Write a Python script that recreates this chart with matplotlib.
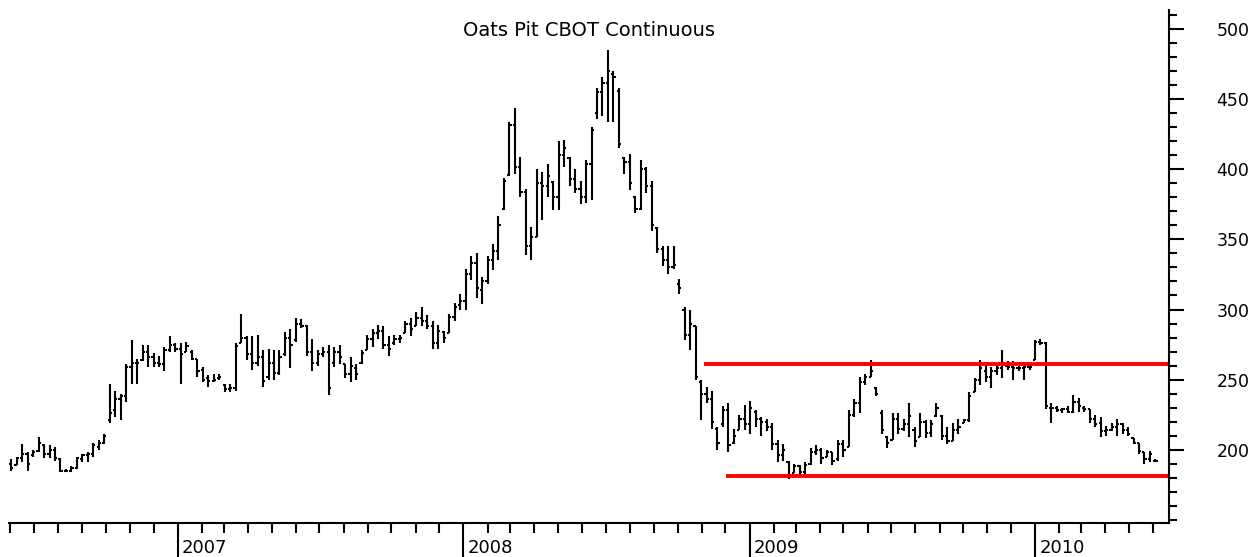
import numpy as np
import pandas as pd
import matplotlib
matplotlib.use('Agg')
import matplotlib.pyplot as plt
import matplotlib.dates as mdates
from matplotlib.collections import LineCollection
from matplotlib.ticker import MultipleLocator
from matplotlib.transforms import ScaledTranslation

# weekly bars, Friday dates
weeks = pd.date_range('2006-06-02', periods=210, freq='7D')

# 2006 (jun-dec)
high_2006 = [193, 195, 204, 198, 200, 209, 204, 203, 202, 194, 186, 188, 195, 197, 198, 205, 207, 211, 247, 242,
             240, 261, 278, 265, 275, 275, 269, 267, 273, 281, 276]
low_2006 = [185, 189, 191, 185, 195, 198, 194, 194, 192, 184, 184, 184, 186, 191, 191, 195, 200, 204, 219, 223,
            221, 234, 247, 247, 263, 259, 259, 259, 256, 270, 270]
open_2006 = [190, 189, 194, 197, 196, 199, 203, 197, 200, 193, 185, 185, 187, 193, 196, 197, 202, 205, 221, 228,
             236, 238, 259, 262, 264, 270, 266, 262, 261, 271, 275]
close_2006 = [187, 194, 197, 190, 198, 205, 197, 200, 194, 185, 185, 187, 194, 196, 197, 203, 205, 210, 226, 236,
              238, 259, 262, 262, 270, 266, 262, 261, 271, 275, 272]

# 2007
high_2007 = [276, 277, 271, 265, 259, 253, 254, 254, 247, 247, 276, 297, 281, 281, 282, 271, 272, 271, 271, 284,
             286, 294, 293, 289, 279, 271, 273, 275, 273, 275, 261, 266, 261, 271, 282, 286, 289, 288, 281, 282,
             282, 292, 294, 298, 302, 296, 292, 289, 285, 297, 305, 311]
low_2007 = [247, 270, 264, 252, 248, 245, 248, 250, 241, 241, 242, 276, 264, 257, 260, 245, 250, 250, 253, 267,
            258, 277, 287, 267, 256, 260, 266, 239, 259, 261, 251, 248, 250, 261, 271, 273, 279, 272, 267, 275,
            276, 283, 281, 288, 288, 286, 272, 272, 276, 283, 292, 300]
open_2007 = [272, 270, 270, 265, 257, 251, 249, 251, 246, 243, 244, 276, 280, 268, 262, 266, 252, 262, 255, 268,
             280, 278, 290, 288, 270, 262, 268, 270, 262, 270, 261, 254, 258, 262, 271, 279, 283, 285, 275, 276,
             279, 283, 290, 288, 294, 292, 288, 276, 284, 283, 295, 303]
close_2007 = [268, 274, 265, 256, 250, 249, 250, 252, 243, 244, 274, 280, 268, 262, 266, 249, 262, 255, 266, 280,
              275, 290, 288, 270, 262, 268, 270, 244, 270, 266, 254, 260, 254, 269, 279, 283, 285, 275, 272, 279,
              280, 290, 286, 294, 292, 288, 276, 285, 280, 295, 302, 306]

# 2008
high_2008 = [329, 338, 340, 323, 338, 347, 367, 394, 434, 444, 409, 386, 359, 400, 398, 404, 392, 420, 421, 409,
             400, 392, 407, 430, 458, 466, 485, 470, 458, 409, 411, 381, 407, 402, 392, 359, 345, 345, 345, 322,
             302, 300, 288, 250, 245, 242, 216, 231, 233, 215, 225, 232]
low_2008 = [300, 321, 308, 304, 318, 328, 335, 371, 395, 397, 380, 339, 335, 352, 364, 380, 371, 371, 402, 388,
            383, 375, 376, 378, 436, 438, 434, 434, 415, 397, 385, 369, 371, 383, 356, 340, 331, 325, 329, 311,
            278, 271, 250, 221, 233, 215, 200, 216, 198, 204, 214, 214]
open_2008 = [306, 325, 333, 314, 320, 335, 342, 372, 396, 432, 402, 384, 345, 352, 390, 388, 391, 380, 410, 408,
             393, 386, 380, 404, 440, 455, 462, 468, 456, 408, 405, 380, 372, 400, 388, 358, 343, 335, 330, 318,
             300, 282, 288, 248, 240, 236, 215, 218, 228, 205, 214, 222]
close_2008 = [325, 333, 315, 320, 335, 342, 360, 392, 432, 402, 384, 345, 352, 390, 388, 395, 380, 410, 415, 393,
              386, 380, 404, 428, 455, 462, 470, 466, 418, 405, 390, 372, 400, 388, 360, 343, 335, 330, 332, 315,
              282, 290, 252, 240, 236, 220, 205, 228, 203, 210, 222, 218]

# 2009
high_2009 = [235, 228, 223, 222, 219, 207, 204, 192, 190, 189, 191, 201, 203, 201, 200, 198, 207, 207, 228, 236,
             252, 254, 264, 245, 228, 210, 226, 226, 222, 233, 216, 226, 221, 221, 233, 225, 216, 219, 222, 222,
             241, 251, 264, 261, 259, 260, 271, 263, 263, 260, 260, 260]
low_2009 = [211, 216, 210, 213, 200, 191, 192, 179, 183, 182, 182, 189, 196, 190, 195, 189, 192, 195, 202, 223,
            226, 246, 252, 238, 211, 201, 207, 211, 213, 209, 202, 209, 208, 209, 223, 207, 204, 206, 211, 219,
            220, 241, 246, 248, 244, 253, 251, 257, 250, 256, 250, 257]
open_2009 = [218, 227, 222, 220, 216, 204, 196, 191, 183, 188, 184, 190, 198, 200, 195, 198, 193, 204, 202, 225,
             233, 248, 252, 244, 226, 209, 207, 222, 215, 218, 214, 209, 220, 212, 224, 224, 210, 206, 214, 219,
             221, 241, 250, 256, 252, 256, 258, 260, 259, 258, 258, 259]
close_2009 = [230, 222, 220, 216, 204, 196, 200, 182, 188, 184, 189, 198, 200, 194, 198, 192, 204, 200, 225, 233,
              248, 252, 256, 240, 214, 205, 222, 215, 218, 224, 206, 220, 212, 218, 230, 210, 206, 214, 216, 221,
              238, 250, 258, 252, 256, 258, 262, 259, 258, 258, 259, 259]

# 2010 (jan-jun)
high_2010 = [278, 279, 277, 233, 231, 230, 231, 239, 237, 231, 229, 225, 223, 217, 219, 222, 219, 216, 208, 205,
             198, 199, 193]
low_2010 = [264, 275, 229, 219, 227, 226, 226, 226, 227, 227, 219, 216, 209, 210, 213, 210, 211, 210, 204, 197,
            190, 191, 191]
open_2010 = [264, 277, 276, 230, 230, 228, 229, 227, 234, 230, 229, 222, 219, 213, 214, 216, 218, 214, 208, 205,
             198, 193, 192]
close_2010 = [277, 276, 231, 230, 228, 229, 227, 234, 231, 229, 222, 218, 213, 214, 216, 218, 214, 211, 205, 199,
              193, 197, 192]

high = high_2006 + high_2007 + high_2008 + high_2009 + high_2010
low = low_2006 + low_2007 + low_2008 + low_2009 + low_2010
opens = open_2006 + open_2007 + open_2008 + open_2009 + open_2010
closes = close_2006 + close_2007 + close_2008 + close_2009 + close_2010

# red channel lines drawn on the chart
resistance = 261
resistance_start = '2008-11-04'
support = 181
support_start = '2008-12-02'

x_start, x_end = '2006-05-30 05:00', '2010-06-21 17:00'

DPI = 100
fig = plt.figure(figsize=(1259 / DPI, 557 / DPI), dpi=DPI)
ax = fig.add_axes([9 / 1259, 1 - 523 / 557, (1169.3 - 9) / 1259, (523 - 10) / 557])

xd = mdates.date2num(weeks.to_pydatetime())
tick = 2.8  # days, open/close tick length
segs = []
for x, h, l, o, c in zip(xd, high, low, opens, closes):
    segs.append([(x, l), (x, h)])
    segs.append([(x - tick, o), (x, o)])
    segs.append([(x, c), (x + tick, c)])
ax.add_collection(LineCollection(segs, colors='black', linewidths=1.5, capstyle='butt'))

x_end_num = mdates.date2num(pd.Timestamp(x_end))
ax.plot([mdates.date2num(pd.Timestamp(resistance_start)), x_end_num], [resistance, resistance],
        color='#ff0000', lw=2.8, solid_capstyle='butt')
ax.plot([mdates.date2num(pd.Timestamp(support_start)), x_end_num], [support, support],
        color='#ff0000', lw=2.8, solid_capstyle='butt')

ax.set_xlim(mdates.date2num(pd.Timestamp(x_start)), x_end_num)
ax.set_ylim(147.6, 513.8)

for s in ['left', 'top']:
    ax.spines[s].set_visible(False)
for s in ['bottom', 'right']:
    ax.spines[s].set_linewidth(1.5)

# y axis on the right
ax.yaxis.tick_right()
ax.yaxis.set_major_locator(MultipleLocator(50))
ax.yaxis.set_minor_locator(MultipleLocator(10))
ax.tick_params(axis='y', which='major', length=11, width=1.5, pad=23, labelsize=12.5)
ax.tick_params(axis='y', which='minor', length=6, width=1.5)
ax.set_yticks([200, 250, 300, 350, 400, 450, 500])

# x axis: months minor, years major with long ticks
ax.xaxis.set_major_locator(mdates.YearLocator())
ax.xaxis.set_major_formatter(mdates.DateFormatter('%Y'))
ax.xaxis.set_minor_locator(mdates.MonthLocator())
ax.tick_params(axis='x', which='major', length=25, width=1.5, pad=-13.5, labelsize=13)
ax.tick_params(axis='x', which='minor', length=7, width=1.5)
for lab in ax.get_xticklabels():
    lab.set_horizontalalignment('left')
    lab.set_transform(lab.get_transform() + ScaledTranslation(3 / 72, 0, fig.dpi_scale_trans))

ax.text(0.5, (523 - 30) / 513, 'Oats Pit CBOT Continuous', transform=ax.transAxes,
        ha='center', va='center', fontsize=14)

fig.savefig('out.png', dpi=DPI)
